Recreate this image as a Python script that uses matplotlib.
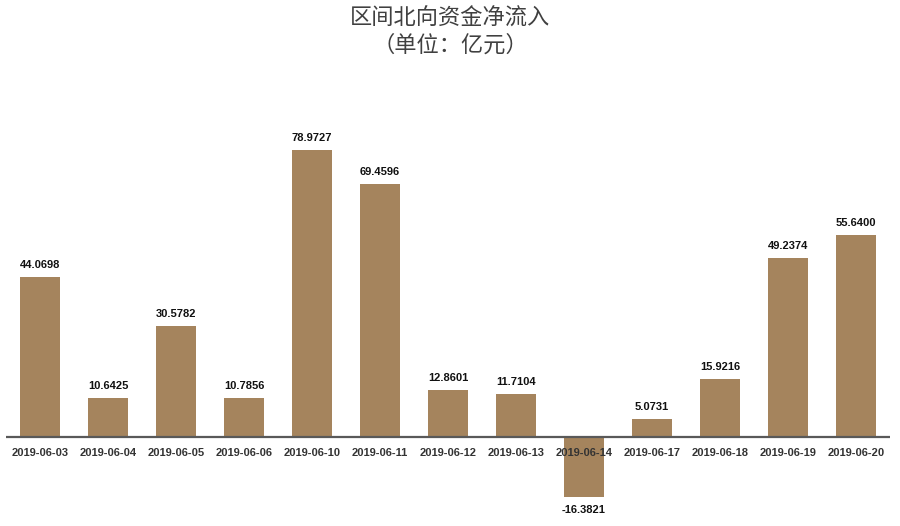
import matplotlib
matplotlib.use("Agg")
import matplotlib.pyplot as plt

plt.rcParams["font.family"] = ["Liberation Sans", "Noto Sans CJK SC", "DejaVu Sans"]

dates = ["2019-06-03", "2019-06-04", "2019-06-05", "2019-06-06", "2019-06-10",
         "2019-06-11", "2019-06-12", "2019-06-13", "2019-06-14", "2019-06-17",
         "2019-06-18", "2019-06-19", "2019-06-20"]
flows = [44.0698, 10.6425, 30.5782, 10.7856, 78.9727, 69.4596, 12.8601,
         11.7104, -16.3821, 5.0731, 15.9216, 49.2374, 55.6400]

title = "区间北向资金净流入"
subtitle = "（单位：亿元）"

BAR = "#a5845d"
AXIS = "#595959"

fig = plt.figure(figsize=(9, 5.26), dpi=100)
ax = fig.add_axes([6 / 900, 0, 884 / 900, 426 / 526])

x = list(range(len(dates)))
ax.bar(x, flows, width=0.59, color=BAR, zorder=2)
ax.set_xlim(-0.5, len(dates) - 0.5)
ax.set_ylim(-24.45, 92.6)

# value labels above positive bars, below negative ones
for i, v in enumerate(flows):
    if v >= 0:
        ax.annotate(f"{v:.4f}", (i, v), xytext=(0, 5), textcoords="offset points",
                    ha="center", va="bottom", fontsize=8, fontweight="bold", color="#111111")
    else:
        ax.annotate(f"{v:.4f}", (i, v), xytext=(0, -6), textcoords="offset points",
                    ha="center", va="top", fontsize=8, fontweight="bold", color="#111111")

ax.axhline(0, color=AXIS, lw=1.6, zorder=3)
for i, d in enumerate(dates):
    ax.annotate(d, (i, 0), xytext=(0, -8), textcoords="offset points",
                ha="center", va="top", fontsize=8, fontweight="bold", color="#333333")

ax.axis("off")

fig.text(0.5, 1 - 18 / 526, title, ha="center", va="center", fontsize=16,
         fontweight="medium", color="#404040", family=["Noto Sans CJK SC", "DejaVu Sans"])
fig.text(0.5, 1 - 45 / 526, subtitle, ha="center", va="center", fontsize=16,
         fontweight="medium", color="#404040", family=["Noto Sans CJK SC", "DejaVu Sans"])

fig.savefig("out.png", dpi=100)
